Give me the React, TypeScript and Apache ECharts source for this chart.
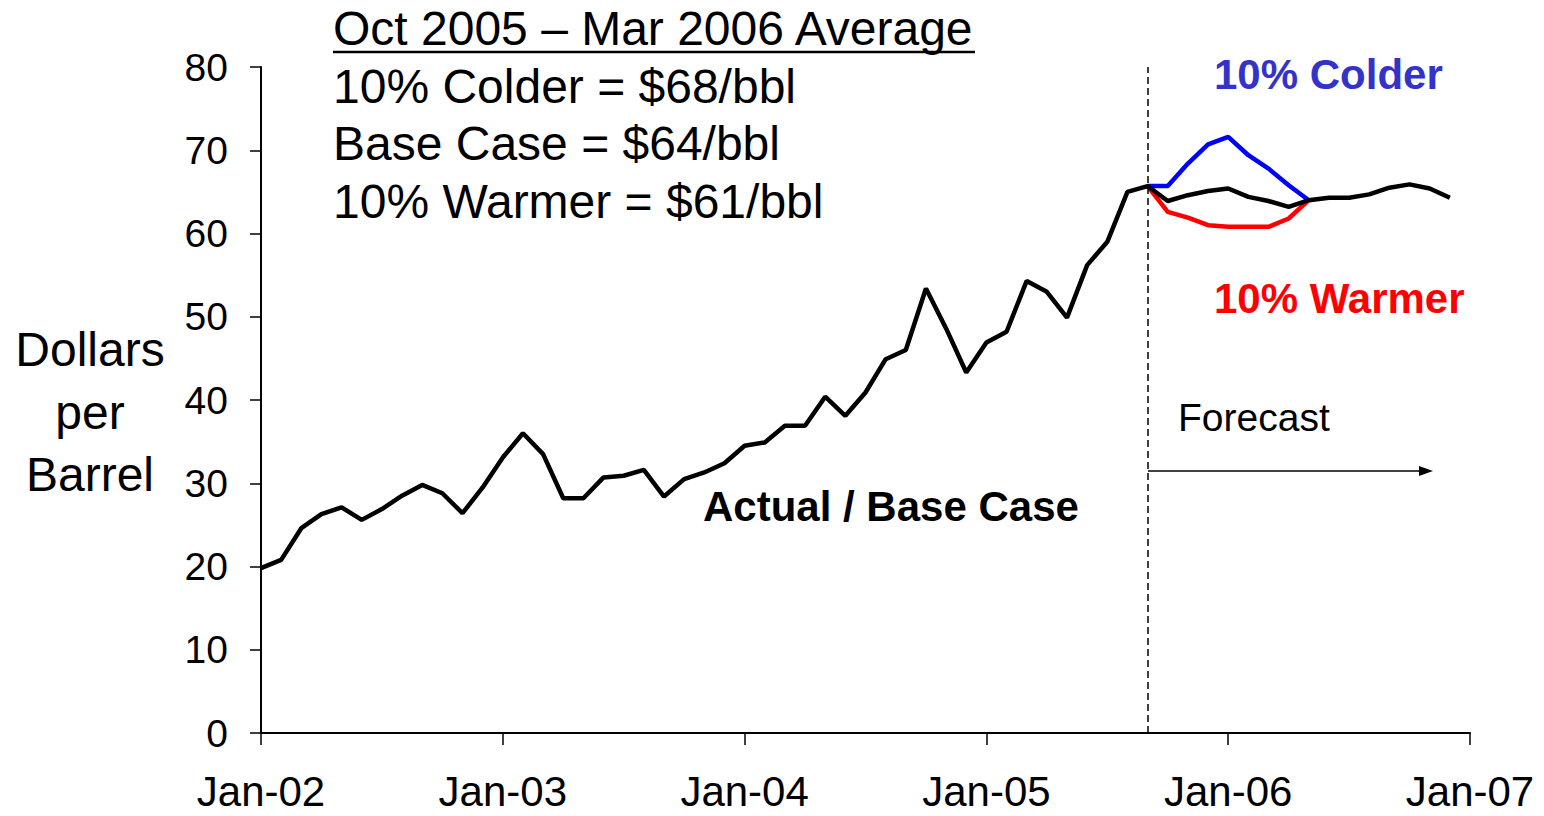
import React, { useEffect, useRef } from "react";
import * as echarts from "echarts";

// Month categories Jan-02 .. Jan-07
const monthNames = ["Jan", "Feb", "Mar", "Apr", "May", "Jun", "Jul", "Aug", "Sep", "Oct", "Nov", "Dec"];
const yearSuffixes = ["02", "03", "04", "05", "06"];
const lastCategory = "Jan-07";

// Actual prices, Jan-02 .. Sep-05 (dollars per barrel)
const actualPrices = [
  19.8, 20.8, 24.6, 26.3, 27.1, 25.6, 26.9, 28.5, 29.8, 28.8, 26.4, 29.5,
  33.1, 36.0, 33.5, 28.2, 28.2, 30.7, 30.9, 31.6, 28.4, 30.5, 31.3, 32.4,
  34.5, 34.9, 36.9, 36.9, 40.4, 38.1, 40.9, 44.9, 46.0, 53.4, 48.6, 43.3,
  46.9, 48.2, 54.3, 53.0, 49.9, 56.2, 59.0, 65.0, 65.7,
];
// Base case forecast, Oct-05 .. Dec-06
const baseForecast = [63.9, 64.6, 65.1, 65.4, 64.4, 63.9, 63.2, 64.0, 64.3, 64.3, 64.7, 65.5, 65.9, 65.4, 64.3];
// Scenario forecasts, Sep-05 .. May-06
const colderForecast = [65.7, 65.7, 68.4, 70.7, 71.6, 69.4, 67.8, 65.8, 64.0];
const warmerForecast = [65.7, 62.6, 61.9, 61.0, 60.8, 60.8, 60.8, 61.8, 64.0];

const forecastStart = "Sep-05";

const FONT = "'Liberation Sans', Arial, sans-serif";

export default function App() {
  const ref = useRef<HTMLDivElement | null>(null);

  useEffect(() => {
    if (!ref.current) return;
    const chart = echarts.init(ref.current, null, { renderer: "svg" });

    const categories: string[] = [];
    yearSuffixes.forEach((y) => monthNames.forEach((m) => categories.push(`${m}-${y}`)));
    categories.push(lastCategory);

    const startIdx = categories.indexOf(forecastStart);
    const baseSeries = [...actualPrices, ...baseForecast];
    const pad = (arr: number[]) => {
      const out: (number | null)[] = [];
      for (let i = 0; i < startIdx; i++) out.push(null);
      return out.concat(arr);
    };

    const text = (x: number, y: number, t: string, size: number, opts: any = {}) => ({
      type: "text",
      x,
      y,
      style: {
        text: t,
        font: `${opts.bold ? "bold " : ""}${size}px ${FONT}`,
        fill: opts.color || "#000",
        textAlign: opts.align || "left",
        textVerticalAlign: "middle",
        verticalAlign: "middle",
      },
      z: 10,
    });

    chart.setOption({
      animation: false,
      backgroundColor: "#fff",
      grid: { left: 261, right: 74, top: 67, bottom: 83, containLabel: false },
      xAxis: {
        type: "category",
        data: categories,
        boundaryGap: false,
        axisLine: { show: true, lineStyle: { color: "#000", width: 2 } },
        axisTick: { show: true, interval: 11, length: 12, lineStyle: { color: "#000", width: 1.5 } },
        axisLabel: {
          interval: 11,
          margin: 41,
          lineHeight: 34,
          color: "#000",
          fontSize: 42,
          fontFamily: FONT,
          showMinLabel: true,
          showMaxLabel: true,
        },
        splitLine: { show: false },
      },
      yAxis: {
        type: "value",
        min: 0,
        max: 80,
        interval: 10,
        axisLine: { show: true, lineStyle: { color: "#000", width: 2 } },
        axisTick: { show: true, length: 11, lineStyle: { color: "#000", width: 1.5 } },
        axisLabel: { margin: 33, color: "#000", fontSize: 39, fontFamily: FONT },
        splitLine: { show: false },
      },
      series: [
        {
          type: "line",
          name: "10% Colder",
          data: pad(colderForecast),
          showSymbol: false,
          symbol: "none",
          lineStyle: { color: "#0000FF", width: 4.5 },
          connectNulls: false,
        },
        {
          type: "line",
          name: "10% Warmer",
          data: pad(warmerForecast),
          showSymbol: false,
          symbol: "none",
          lineStyle: { color: "#FF0000", width: 4.5 },
          connectNulls: false,
        },
        {
          type: "line",
          name: "Actual / Base Case",
          data: baseSeries,
          showSymbol: false,
          symbol: "none",
          lineStyle: { color: "#000", width: 4.5 },
          markLine: {
            silent: true,
            symbol: ["none", "none"],
            label: { show: false },
            lineStyle: { color: "#000", width: 1.5, type: [7, 4] },
            data: [{ xAxis: forecastStart }],
          },
        },
      ],
      graphic: [
        text(333, 28, "Oct 2005 \u2013 Mar 2006 Average", 48),
        { type: "line", shape: { x1: 333, y1: 52, x2: 975, y2: 52 }, style: { stroke: "#000", lineWidth: 2.5 } },
        text(333, 86, "10% Colder = $68/bbl", 48),
        text(333, 143, "Base Case = $64/bbl", 48),
        text(333, 201, "10% Warmer = $61/bbl", 48),
        text(1214, 74, "10% Colder", 42, { bold: true, color: "#3333CC" }),
        text(1214, 298, "10% Warmer", 42, { bold: true, color: "#FF0000" }),
        text(1178, 417, "Forecast", 39),
        text(703, 506, "Actual / Base Case", 42, { bold: true }),
        text(90, 349, "Dollars", 48, { align: "center" }),
        text(90, 412, "per", 48, { align: "center" }),
        text(90, 474, "Barrel", 48, { align: "center" }),
        { type: "line", shape: { x1: 1148, y1: 471, x2: 1422, y2: 471 }, style: { stroke: "#000", lineWidth: 1.5 } },
        { type: "polygon", shape: { points: [[1433, 471], [1419, 466], [1419, 476]] }, style: { fill: "#000" } },
      ],
    });

    return () => chart.dispose();
  }, []);

  return (
    <div
      ref={ref}
      style={{ position: "fixed", left: 0, top: 0, width: 1544, height: 816, background: "#fff" }}
    />
  );
}
